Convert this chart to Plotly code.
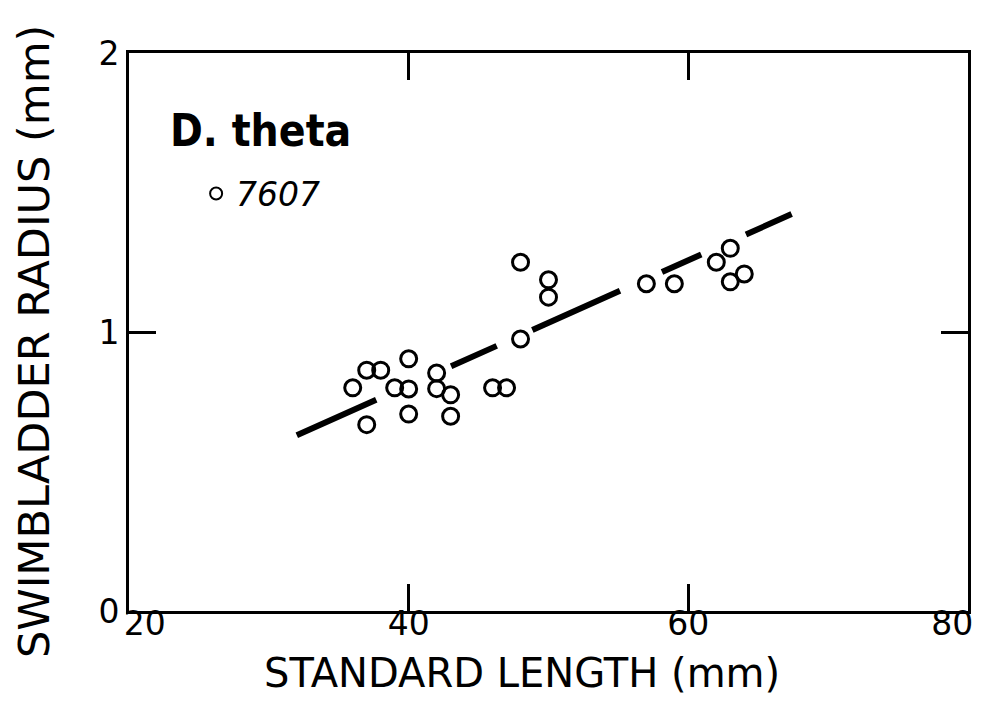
import plotly.graph_objects as go

# Data: standard length (mm) vs swimbladder radius (mm), D. theta, station 7607
standard_length = [36, 37, 38, 40, 39, 40, 37, 40, 42, 42, 43, 43, 46, 47,
                   48, 48, 50, 50, 57, 59, 62, 63, 63, 64]
swimbladder_radius = [0.80, 0.863, 0.863, 0.904, 0.80, 0.796, 0.668, 0.706,
                      0.853, 0.797, 0.775, 0.698, 0.80, 0.80, 0.975, 1.25,
                      1.187, 1.125, 1.173, 1.173, 1.25, 1.30, 1.18, 1.208]

# Regression line drawn over this length range
fit_x_range = [32.0, 67.5]
fit_intercept_at_32 = 0.63
fit_slope = 0.0224
fit_y = [fit_intercept_at_32 + fit_slope * (x - 32.0) for x in fit_x_range]

x_tickvals = [20, 40, 60, 80]
x_ticktext = ["\u00a0\u00a0\u00a020", "40", "60", "80\u00a0\u00a0\u00a0"]
y_tickvals = [0, 1, 2]
y_ticktext = ["0", "1", "2"]

FONT = "DejaVu Sans, sans-serif"
FONT_C = "DejaVu Sans Condensed, DejaVu Sans, sans-serif"

fig = go.Figure()

fig.add_trace(go.Scatter(
    x=fit_x_range, y=fit_y, mode="lines",
    line=dict(color="black", width=6,
              dash="87px,82px,50px,39px,96px,46px,43px,49px,50px"),
    showlegend=False, hoverinfo="skip",
))

fig.add_trace(go.Scatter(
    x=standard_length, y=swimbladder_radius, mode="markers",
    name="<i>7607</i>",
    marker=dict(symbol="circle-open", size=16, color="black",
                line=dict(width=3, color="black")),
))

fig.add_annotation(
    x=0.047, y=0.861, xref="paper", yref="paper",
    xanchor="left", yanchor="middle", showarrow=False,
    text="<b>D. theta</b>",
    font=dict(family=FONT_C, size=44, color="black"),
)

fig.add_annotation(
    x=0.468, y=-0.111, xref="paper", yref="paper",
    xanchor="center", yanchor="middle", showarrow=False,
    text="STANDARD LENGTH (mm)",
    font=dict(family=FONT, size=40, color="black"),
)

fig.add_annotation(
    x=-0.113, y=0.484, xref="paper", yref="paper",
    xanchor="center", yanchor="middle", showarrow=False,
    textangle=-90,
    text="SWIMBLADDER RADIUS (mm)",
    font=dict(family=FONT, size=43, color="black"),
)

fig.update_layout(
    width=981, height=713,
    margin=dict(l=121, r=21, t=45, b=110),
    paper_bgcolor="white", plot_bgcolor="white",
    font=dict(family=FONT, color="black"),
    showlegend=True,
    legend=dict(
        x=0.080, y=0.748, xanchor="left", yanchor="middle",
        bgcolor="rgba(0,0,0,0)", itemsizing="constant",
        font=dict(family=FONT, size=33, color="black"),
    ),
    xaxis=dict(
        range=[20, 80], showgrid=False, zeroline=False, automargin=False,
        showline=True, linecolor="black", linewidth=3, mirror="ticks",
        ticks="inside", ticklen=27, tickwidth=3, tickcolor="black",
        tickvals=x_tickvals, ticktext=x_ticktext,
        ticklabeloverflow="allow", ticklabelstandoff=-19,
        tickfont=dict(family=FONT, size=33, color="black"),
    ),
    yaxis=dict(
        range=[0, 2], showgrid=False, zeroline=False, automargin=False,
        showline=True, linecolor="black", linewidth=3, mirror="ticks",
        ticks="inside", ticklen=27, tickwidth=3, tickcolor="black",
        tickvals=y_tickvals, ticktext=y_ticktext,
        ticklabelstandoff=0,
        tickfont=dict(family=FONT, size=33, color="black"),
    ),
)

fig.write_html("out.html")
